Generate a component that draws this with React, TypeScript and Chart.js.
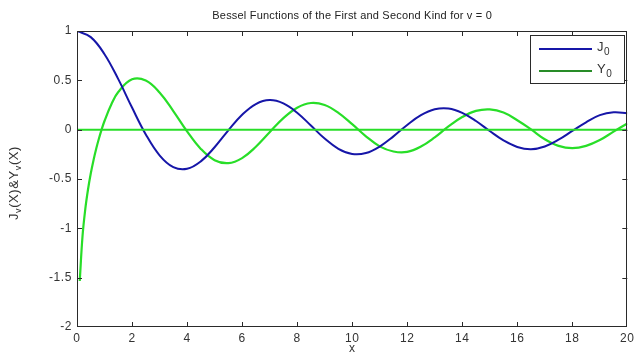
import React, { useEffect, useRef } from "react";
import { Chart, registerables } from "chart.js";

Chart.register(...registerables);

const titleText = "Bessel Functions of the First and Second Kind for v = 0";
const xLabel = "x";
const xTicks = [0, 2, 4, 6, 8, 10, 12, 14, 16, 18, 20];
const yTicks = [-2, -1.5, -1, -0.5, 0, 0.5, 1];

const jX = [0, 0.5, 1, 1.5, 2, 2.5, 3, 3.5, 4, 4.5, 5, 5.5, 6, 6.5, 7, 7.5, 8, 8.5, 9, 9.5, 10, 10.5, 11, 11.5, 12, 12.5, 13, 13.5, 14, 14.5, 15, 15.5, 16, 16.5, 17, 17.5, 18, 18.5, 19, 19.5, 20];
const j0 = [1.0, 0.938, 0.765, 0.512, 0.224, -0.048, -0.26, -0.38, -0.397, -0.321, -0.178, -0.007, 0.151, 0.26, 0.3, 0.266, 0.172, 0.042, -0.09, -0.194, -0.246, -0.237, -0.171, -0.068, 0.048, 0.147, 0.207, 0.215, 0.171, 0.088, -0.014, -0.109, -0.175, -0.198, -0.17, -0.102, -0.013, 0.075, 0.147, 0.176, 0.167];

const yX = [0.1, 0.2, 0.3, 0.4, 0.5, 0.6, 0.7, 0.8, 0.9, 1, 1.25, 1.5, 2, 2.5, 3, 3.5, 4, 4.5, 5, 5.5, 6, 6.5, 7, 7.5, 8, 8.5, 9, 9.5, 10, 10.5, 11, 11.5, 12, 12.5, 13, 13.5, 14, 14.5, 15, 15.5, 16, 16.5, 17, 17.5, 18, 18.5, 19, 19.5, 20];
const y0 = [-1.534, -1.081, -0.807, -0.606, -0.444, -0.309, -0.191, -0.087, 0.006, 0.088, 0.258, 0.382, 0.51, 0.498, 0.377, 0.189, -0.017, -0.195, -0.309, -0.339, -0.288, -0.173, -0.026, 0.117, 0.223, 0.27, 0.25, 0.171, 0.056, -0.067, -0.169, -0.221, -0.225, -0.171, -0.078, 0.033, 0.128, 0.19, 0.205, 0.174, 0.096, 0.003, -0.097, -0.164, -0.187, -0.164, -0.105, -0.02, 0.063];

const zeroX = [0, 20];
const zeroY = [0, 0];

const BLUE = "rgb(22,22,168)";
const GREEN = "rgb(40,222,40)";
const LEGEND_GREEN = "rgb(40,140,40)";
const AXIS = "#2a2a2a";
const TEXT = "#333";
const FONT = "'Liberation Sans', Arial, sans-serif";

const decorPlugin = {
  id: "decor",
  beforeDraw(chart: any) {
    (chart.ctx as any).letterSpacing = "0.6px";
  },
  afterDraw(chart: any) {
    const ctx = chart.ctx as CanvasRenderingContext2D;
    const a = chart.chartArea;
    const xs = chart.scales.x;
    const ys = chart.scales.y;
    (ctx as any).letterSpacing = "0px";
    ctx.save();
    // box
    ctx.strokeStyle = AXIS;
    ctx.lineWidth = 1;
    ctx.strokeRect(Math.round(a.left) + 0.5, Math.round(a.top) + 0.5, Math.round(a.right - a.left) - 1, Math.round(a.bottom - a.top) - 1);
    // inward ticks
    const tl = 5;
    ctx.beginPath();
    xTicks.forEach((v) => {
      if (v === xTicks[0] || v === xTicks[xTicks.length - 1]) return;
      const px = Math.round(xs.getPixelForValue(v)) + 0.5;
      ctx.moveTo(px, a.bottom);
      ctx.lineTo(px, a.bottom - tl);
      ctx.moveTo(px, a.top);
      ctx.lineTo(px, a.top + tl);
    });
    yTicks.forEach((v) => {
      if (v === yTicks[0] || v === yTicks[yTicks.length - 1]) return;
      const py = Math.round(ys.getPixelForValue(v)) + 0.5;
      ctx.moveTo(a.left, py);
      ctx.lineTo(a.left + tl, py);
      ctx.moveTo(a.right, py);
      ctx.lineTo(a.right - tl, py);
    });
    ctx.stroke();

    // title
    ctx.fillStyle = "#222";
    ctx.font = `11px ${FONT}`;
    ctx.textAlign = "center";
    ctx.textBaseline = "middle";
    (ctx as any).letterSpacing = "0.2px";
    ctx.fillText(titleText, (a.left + a.right) / 2, 16);
    // x label
    ctx.font = `12px ${FONT}`;
    ctx.fillStyle = TEXT;
    ctx.fillText(xLabel, (a.left + a.right) / 2, 349);

    // y label with subscripts
    (ctx as any).letterSpacing = "0.6px";
    const parts: [string, boolean][] = [["J", false], ["v", true], ["(X)&Y", false], ["v", true], ["(X)", false]];
    const mainFont = `13px ${FONT}`;
    const subFont = `9px ${FONT}`;
    let total = 0;
    parts.forEach(([t, s]) => {
      ctx.font = s ? subFont : mainFont;
      total += ctx.measureText(t).width;
    });
    ctx.save();
    ctx.translate(14, 183);
    ctx.rotate(-Math.PI / 2);
    ctx.textAlign = "left";
    ctx.textBaseline = "middle";
    let cx = -total / 2;
    parts.forEach(([t, s]) => {
      ctx.font = s ? subFont : mainFont;
      ctx.fillText(t, cx, s ? 5 : 0);
      cx += ctx.measureText(t).width;
    });
    ctx.restore();

    // legend
    (ctx as any).letterSpacing = "0px";
    const lx = 530, ly = 35, lw = 94, lh = 48;
    ctx.fillStyle = "#fff";
    ctx.fillRect(lx, ly, lw, lh);
    ctx.strokeStyle = AXIS;
    ctx.lineWidth = 1;
    ctx.strokeRect(lx + 0.5, ly + 0.5, lw, lh);
    const items: [string, string, number][] = [["J", BLUE, 49], ["Y", LEGEND_GREEN, 71]];
    items.forEach(([t, c, y]) => {
      ctx.strokeStyle = c;
      ctx.lineWidth = 2;
      ctx.beginPath();
      ctx.moveTo(539, y);
      ctx.lineTo(592, y);
      ctx.stroke();
      ctx.fillStyle = TEXT;
      ctx.textAlign = "left";
      ctx.textBaseline = "middle";
      ctx.font = `13px ${FONT}`;
      ctx.fillText(t, 597, y - 2);
      const w = ctx.measureText(t).width;
      ctx.font = `10px ${FONT}`;
      ctx.fillText("0", 597 + w + 0.5, y + 3);
    });
    ctx.restore();
  },
};

export default function App() {
  const ref = useRef<HTMLCanvasElement>(null);
  useEffect(() => {
    if (!ref.current) return;
    const chart = new Chart(ref.current, {
      type: "line",
      data: {
        datasets: [
          {
            label: "zero",
            data: zeroX.map((x, i) => ({ x, y: zeroY[i] })),
            borderColor: GREEN,
            borderWidth: 2,
            pointRadius: 0,
            tension: 0,
          },
          {
            label: "J0",
            data: jX.map((x, i) => ({ x, y: j0[i] })),
            borderColor: BLUE,
            borderWidth: 2,
            pointRadius: 0,
            tension: 0.4,
          },
          {
            label: "Y0",
            data: yX.map((x, i) => ({ x, y: y0[i] })),
            borderColor: GREEN,
            borderWidth: 2.2,
            pointRadius: 0,
            tension: 0.4,
          },
        ],
      },
      options: {
        animation: false,
        responsive: true,
        maintainAspectRatio: false,
        layout: { padding: { top: 31, right: 7, left: 0, bottom: 0 } },
        plugins: {
          legend: { display: false },
          title: { display: false },
          tooltip: { enabled: false },
        },
        scales: {
          x: {
            type: "linear",
            min: 0,
            max: 20,
            afterFit: (s: any) => { s.height = 28; },
            afterBuildTicks: (s: any) => { s.ticks = xTicks.map((v) => ({ value: v })); },
            grid: { display: false, drawTicks: false },
            border: { display: false },
            ticks: {
              padding: 4,
              color: TEXT,
              font: { family: FONT, size: 12 },
              maxRotation: 0,
              callback: (v: any) => String(v),
            },
          },
          y: {
            type: "linear",
            min: -2,
            max: 1,
            afterFit: (s: any) => { s.width = 77; },
            afterBuildTicks: (s: any) => { s.ticks = yTicks.map((v) => ({ value: v })); },
            grid: { display: false, drawTicks: false },
            border: { display: false },
            ticks: {
              padding: 5,
              color: TEXT,
              font: { family: FONT, size: 12 },
              callback: (v: any) => String(v),
            },
          },
        },
      },
      plugins: [decorPlugin],
    });
    return () => chart.destroy();
  }, []);
  return (
    <div style={{ position: "fixed", left: 0, top: 0, width: 638, height: 355, background: "#fff" }}>
      <canvas ref={ref} />
    </div>
  );
}
